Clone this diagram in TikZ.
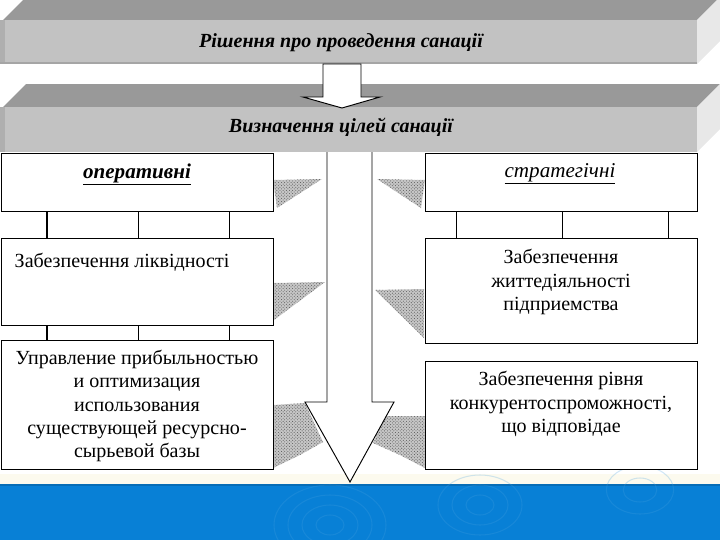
\documentclass[tikz,border=0pt]{standalone}
\usepackage{fontspec}
\setmainfont{Liberation Serif}
\usetikzlibrary{calc,patterns}

\definecolor{slabtop}{RGB}{153,153,153}
\definecolor{slabfront}{RGB}{194,194,194}
\definecolor{slabside}{RGB}{232,232,232}
\definecolor{seablue}{RGB}{8,128,214}
\definecolor{seaedge}{RGB}{252,250,238}

\def\pxu{0.3333mm}

\tikzset{
  goalbox/.style 2 args={draw, line width=1.2pt, fill=white, anchor=north west, inner sep=0pt,
    minimum width={#1*\pxu}, minimum height={#2*\pxu}},
  link/.style={line width=1.2pt},
  boxtext/.style={align=center, font=\fontsize{19}{22}\selectfont},
  headtext/.style={font=\fontsize{19}{22}\selectfont\bfseries\itshape},
  dither/.style={preaction={fill=gray!45}, pattern=crosshatch dots, pattern color=gray!70!black},
  ripple/.style={seablue!75!white, line width=1pt, opacity=0.25},
  blockarrow/.style={draw, fill=white, line width=0.9pt, line join=miter}
}

\begin{document}
\begin{tikzpicture}[x=0.3333mm, y=-0.3333mm]
    \useasboundingbox (0,0) rectangle (720,540);

    % slab 1
    \fill[slabtop] (3,20) -- (26,-3) -- (720,-3) -- (697,20) -- cycle;
    \fill[slabside] (697,20) -- (720,-3) -- (720,41) -- (697,64) -- cycle;
    \fill[slabfront] (0,20) rectangle (697,64);
    \fill[slabfront!90!black] (0,20) rectangle (5,64);
    \fill[slabfront!85!black] (0,62) rectangle (697,64);
    \node[headtext] (decision) at (341,43) {Рішення про проведення санації};

    % slab 2
    \fill[slabtop] (3,107) -- (26,84) -- (720,84) -- (697,107) -- cycle;
    \fill[slabside] (697,107) -- (720,84) -- (720,129) -- (697,152) -- cycle;
    \fill[slabfront] (0,107) rectangle (697,152);
    \fill[slabfront!90!black] (0,107) rectangle (5,152);
    \node[headtext] (goals) at (341,127) {Визначення цілей санації};

    % arrow between slabs
    \draw[blockarrow] (323,64) -- (361,64) -- (361,97) -- (380,97) -- (342,108)
      -- (303,97) -- (323,97) -- cycle;

    % bottom band
    \fill[seaedge] (0,474) rectangle (720,484);
    \fill[seablue] (0,484) rectangle (720,540);
    \fill[seablue!85!black] (0,484) rectangle (720,486);
    \foreach \r in {10,20,30,40}
      \draw[ripple] (330,525) ellipse ({\r*1.4} and \r);
    \foreach \r in {10,20,30}
      \draw[ripple] (480,505) ellipse ({\r*1.4} and \r);
    \foreach \r in {12,24}
      \draw[ripple] (640,490) ellipse ({\r*1.4} and \r);

    % shadows
    \fill[dither] (273,180) -- (322,179) -- (277,208) -- cycle;
    \fill[dither] (425,180) -- (377,179) -- (421,208) -- cycle;
    \fill[dither] (274,283) -- (325,282) -- (274,320) -- cycle;
    \fill[dither] (375,290) -- (424,289) -- (424,338) -- cycle;
    \fill[dither] (273,405) -- (305,403) -- (323,442) -- (300,455) -- (273,468) -- cycle;
    \fill[dither] (386,416) -- (425,416) -- (425,468) -- (400,455) -- (373,443) -- cycle;

    % big arrow
    \draw[blockarrow] (327,152) -- (327,402) -- (305,402) -- (350,482)
      -- (394,402) -- (372,402) -- (372,152);

    % operative goals
    \node[goalbox={272}{58}] (oper) at (1,153) {};
    \node[goalbox={272}{87}] (liq) at (1,238) {};
    \node[goalbox={272}{129}] (profit) at (1,340) {};
    \node[headtext, font=\fontsize{20}{22}\selectfont\bfseries\itshape] (operlbl) at (137,174) {\underline{оперативні}};
    \node[boxtext, anchor=west] (liqlbl) at (11,262) {Забезпечення ліквідності};
    \node[boxtext] (profitlbl) at (137,406) {Управление прибыльностью\\и оптимизация\\использования\\существующей ресурсно-\\сырьевой базы};
    \foreach \f in {0.168,0.502,0.835} {
      \draw[link] ($(oper.south west)!\f!(oper.south east)$) -- ($(liq.north west)!\f!(liq.north east)$);
      \draw[link] ($(liq.south west)!\f!(liq.south east)$) -- ($(profit.north west)!\f!(profit.north east)$);
    }

    % strategic goals
    \node[goalbox={272}{58}] (strat) at (425,153) {};
    \node[goalbox={272}{105}] (vital) at (425,238) {};
    \node[goalbox={272}{108}] (compet) at (425,361) {};
    \node[font=\fontsize{20}{22}\selectfont\itshape] (stratlbl) at (560,174) {\underline{стратегічні}};
    \node[boxtext] (vitallbl) at (561,282) {Забезпечення\\життедіяльності\\підприемства};
    \node[boxtext] (competlbl) at (561,404) {Забезпечення рівня\\конкурентоспроможності,\\що відповідае};
    \foreach \f in {0.114,0.504,0.89}
      \draw[link] ($(strat.south west)!\f!(strat.south east)$) -- ($(vital.north west)!\f!(vital.north east)$);
\end{tikzpicture}
\end{document}
